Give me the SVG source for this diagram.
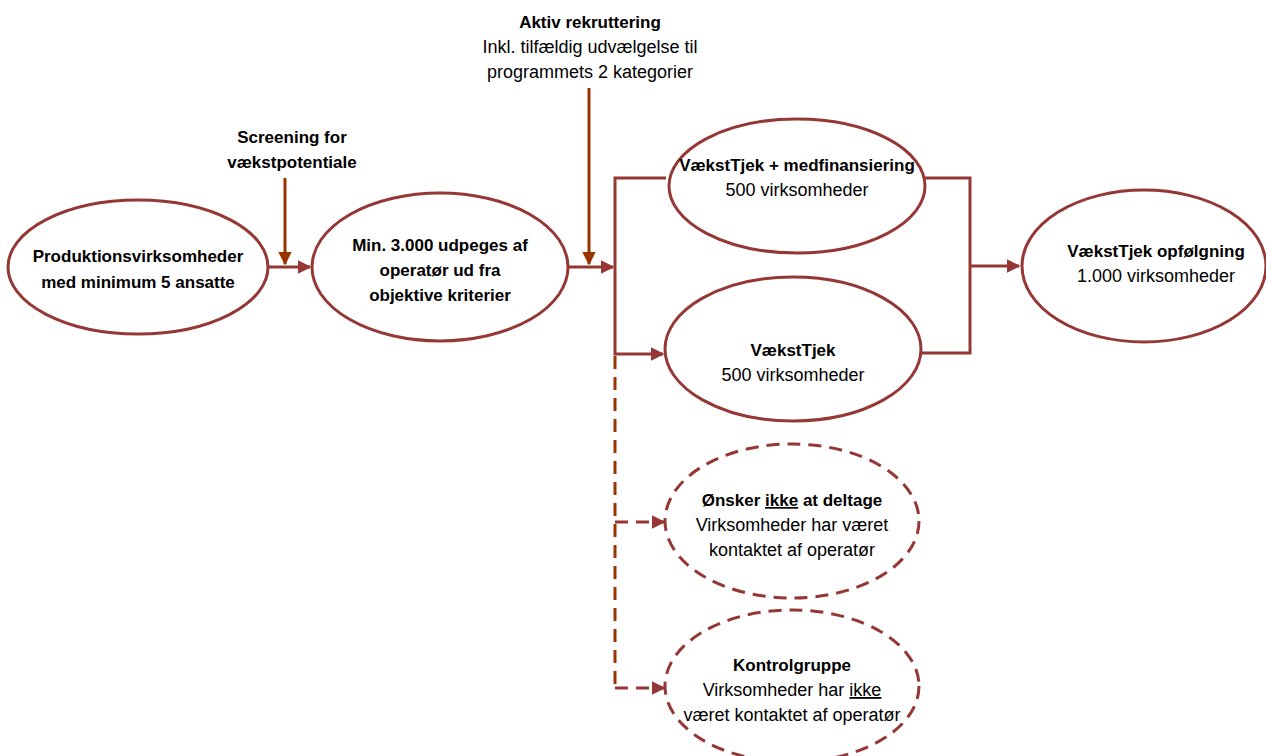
<svg xmlns="http://www.w3.org/2000/svg" width="1266" height="756" viewBox="0 0 1266 756">
<style>
.node{fill:#fff;stroke:#953735;stroke-width:3}
.dash{stroke-dasharray:13 8}
.t{font-family:"Liberation Sans",Arial,sans-serif;font-size:18px;fill:#000;text-anchor:middle}
.b{font-weight:bold;font-size:17px}
.c{fill:none;stroke:#953735;stroke-width:3}
.o{fill:none;stroke:#993300;stroke-width:3}
.u{text-decoration:underline}
</style>
<defs>
<marker id="ah" viewBox="0 0 10 10" refX="9" refY="5" markerWidth="4.5" markerHeight="4.5" markerUnits="strokeWidth" orient="auto"><path d="M0,0 L10,5 L0,10 z" fill="#953735"/></marker>
<marker id="ao" viewBox="0 0 10 10" refX="9" refY="5" markerWidth="4.5" markerHeight="4.5" markerUnits="strokeWidth" orient="auto"><path d="M0,0 L10,5 L0,10 z" fill="#993300"/></marker>
</defs>
<g id="connectors">
<path class="c" d="M268,267 L310,267" marker-end="url(#ah)"/>
<path class="o" d="M285,178 L285,264" marker-end="url(#ao)"/>
<path class="c" d="M567,267 L613,267" marker-end="url(#ah)"/>
<path class="o" d="M589,88 L589,264" marker-end="url(#ao)"/>
<path class="c" d="M666,178 L615,178 L615,354 L663,354" marker-end="url(#ah)"/>
<path class="o dash" d="M615,356 L615,688"/>
<path class="c dash" d="M615,522 L664,522" marker-end="url(#ah)"/>
<path class="c dash" d="M615,688 L664,688" marker-end="url(#ah)"/>
<path class="c" d="M924,178 L970,178 L970,353 L921,353"/>
<path class="c" d="M970,266 L1019,266" marker-end="url(#ah)"/>
</g>
<g id="label-screening"><text class="t b" x="292" y="143">Screening for</text><text class="t b" x="292" y="168">vækstpotentiale</text></g>
<g id="label-aktiv"><text class="t b" x="590" y="28">Aktiv rekruttering</text><text class="t" x="590" y="53">Inkl. tilfældig udvælgelse til</text><text class="t" x="590" y="78">programmets 2 kategorier</text></g>
<g id="n1"><ellipse class="node" cx="138" cy="267" rx="130" ry="67"/><text class="t b" x="138" y="262">Produktionsvirksomheder</text><text class="t b" x="138" y="288">med minimum 5 ansatte</text></g>
<g id="n2"><ellipse class="node" cx="440" cy="267" rx="128" ry="74"/><text class="t b" x="440" y="251">Min. 3.000 udpeges af</text><text class="t b" x="440" y="276">operatør ud fra</text><text class="t b" x="440" y="301">objektive kriterier</text></g>
<g id="n3"><ellipse class="node" cx="797" cy="186" rx="128" ry="67"/><text class="t b" x="797" y="171">VækstTjek + medfinansiering</text><text class="t" x="797" y="196">500 virksomheder</text></g>
<g id="n4"><ellipse class="node" cx="793" cy="349" rx="128" ry="72"/><text class="t b" x="793" y="356">VækstTjek</text><text class="t" x="793" y="381">500 virksomheder</text></g>
<g id="n5"><ellipse class="node" cx="1144" cy="266" rx="122" ry="76"/><text class="t b" x="1156" y="257">VækstTjek opfølgning</text><text class="t" x="1156" y="282">1.000 virksomheder</text></g>
<g id="n6"><ellipse class="node dash" cx="792" cy="521" rx="127" ry="77"/><text class="t b" x="792" y="506">Ønsker <tspan class="u">ikke</tspan> at deltage</text><text class="t" x="792" y="531">Virksomheder har været</text><text class="t" x="792" y="556">kontaktet af operatør</text></g>
<g id="n7"><ellipse class="node dash" cx="792" cy="686" rx="127" ry="76"/><text class="t b" x="792" y="671">Kontrolgruppe</text><text class="t" x="792" y="696">Virksomheder har <tspan class="u">ikke</tspan></text><text class="t" x="792" y="721">været kontaktet af operatør</text></g>
</svg>
